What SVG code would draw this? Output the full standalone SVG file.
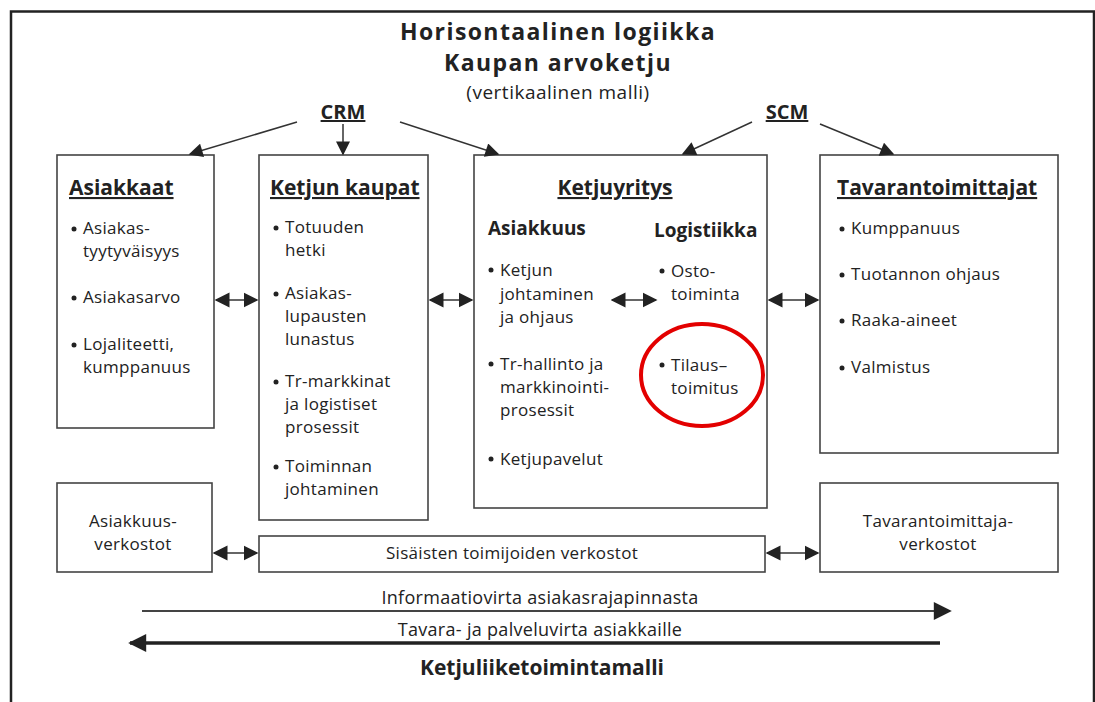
<svg xmlns="http://www.w3.org/2000/svg" width="1095" height="702" viewBox="0 0 1095 702">
<style>
text{font-family:"Open Sans","Noto Sans","Liberation Sans",sans-serif;fill:#222}
.t1{font-size:23px;font-weight:bold;letter-spacing:1.4px;text-anchor:middle}
.sub{font-size:19px;letter-spacing:0.5px;text-anchor:middle}
.hd{font-size:21px;font-weight:bold;text-decoration:underline}
.sh{font-size:19px;font-weight:bold}
.b{font-size:17px;letter-spacing:0.3px}
.c{font-size:17px;letter-spacing:0.3px;text-anchor:middle}
.box{fill:#fff;stroke:#444;stroke-width:1.6}
.ln{stroke:#333;stroke-width:1.5;fill:none}
.ah{fill:#222}
</style>
<defs>
<marker id="tri" viewBox="0 0 10 10" refX="9" refY="5" markerWidth="16" markerHeight="14" markerUnits="userSpaceOnUse" orient="auto"><path d="M0,0L10,5L0,10z" fill="#222"/></marker>
<marker id="tri2" viewBox="0 0 10 10" refX="9" refY="5" markerWidth="22" markerHeight="18" markerUnits="userSpaceOnUse" orient="auto"><path d="M0,0L10,5L0,10z" fill="#222"/></marker>
<marker id="dh" viewBox="0 0 10 10" refX="9" refY="5" markerWidth="15" markerHeight="18" markerUnits="userSpaceOnUse" orient="auto-start-reverse"><path d="M0,0L10,5L0,10z" fill="#222"/></marker>
</defs>
<rect x="0" y="0" width="1095" height="702" fill="#fff"/>
<path d="M11,702V11.5H1094V702" fill="none" stroke="#222" stroke-width="2.5"/>

<g id="title">
<text class="t1" x="558" y="40">Horisontaalinen logiikka</text>
<text class="t1" x="558" y="71">Kaupan arvoketju</text>
<text class="sub" x="558" y="99">(vertikaalinen malli)</text>
</g>
<g id="crm"><text x="343" y="119" style="font-size:20px;font-weight:bold;text-anchor:middle;text-decoration:underline">CRM</text></g>
<g id="scm"><text x="787" y="119" style="font-size:20px;font-weight:bold;text-anchor:middle;text-decoration:underline">SCM</text></g>

<g id="asiakkaat">
<rect class="box" x="57" y="155" width="157" height="273"/>
<text class="hd" x="69" y="195">Asiakkaat</text>
<circle cx="74" cy="229" r="2.5" class="ah"/><text class="b" x="83" y="234">Asiakas-</text><text class="b" x="83" y="257">tyytyväisyys</text>
<circle cx="74" cy="298" r="2.5" class="ah"/><text class="b" x="83" y="303">Asiakasarvo</text>
<circle cx="74" cy="345" r="2.5" class="ah"/><text class="b" x="83" y="350">Lojaliteetti,</text><text class="b" x="83" y="373">kumppanuus</text>
</g>

<g id="ketjun-kaupat">
<rect class="box" x="259" y="155" width="169" height="365"/>
<text class="hd" x="270" y="195">Ketjun kaupat</text>
<circle cx="276" cy="228" r="2.5" class="ah"/><text class="b" x="285" y="233">Totuuden</text><text class="b" x="285" y="256">hetki</text>
<circle cx="276" cy="294" r="2.5" class="ah"/><text class="b" x="285" y="299">Asiakas-</text><text class="b" x="285" y="322">lupausten</text><text class="b" x="285" y="345">lunastus</text>
<circle cx="276" cy="382" r="2.5" class="ah"/><text class="b" x="285" y="387">Tr-markkinat</text><text class="b" x="285" y="410">ja logistiset</text><text class="b" x="285" y="433">prosessit</text>
<circle cx="276" cy="467" r="2.5" class="ah"/><text class="b" x="285" y="472">Toiminnan</text><text class="b" x="285" y="495">johtaminen</text>
</g>

<g id="ketjuyritys">
<rect class="box" x="474" y="155" width="293" height="353"/>
<text class="hd" x="615" y="195" style="text-anchor:middle">Ketjuyritys</text>
<text class="sh" x="488" y="235">Asiakkuus</text>
<text class="sh" x="654" y="237">Logistiikka</text>
<circle cx="491" cy="270" r="2.5" class="ah"/><text class="b" x="500" y="276">Ketjun</text><text class="b" x="500" y="300">johtaminen</text><text class="b" x="500" y="323">ja ohjaus</text>
<circle cx="491" cy="364" r="2.5" class="ah"/><text class="b" x="500" y="370">Tr-hallinto ja</text><text class="b" x="500" y="393">markkinointi-</text><text class="b" x="500" y="416">prosessit</text>
<circle cx="491" cy="459" r="2.5" class="ah"/><text class="b" x="500" y="465">Ketjupavelut</text>
<circle cx="662" cy="271" r="2.5" class="ah"/><text class="b" x="671" y="277">Osto-</text><text class="b" x="671" y="300">toiminta</text>
<circle cx="662" cy="365" r="2.5" class="ah"/><text class="b" x="671" y="371">Tilaus–</text><text class="b" x="671" y="394">toimitus</text>
<ellipse cx="702" cy="375" rx="61" ry="51" fill="none" stroke="#e30000" stroke-width="4"/>
</g>

<g id="tavarantoimittajat">
<rect class="box" x="820" y="155" width="238" height="298"/>
<text class="hd" x="837" y="195">Tavarantoimittajat</text>
<circle cx="842" cy="229" r="2.5" class="ah"/><text class="b" x="851" y="234">Kumppanuus</text>
<circle cx="842" cy="275" r="2.5" class="ah"/><text class="b" x="851" y="280">Tuotannon ohjaus</text>
<circle cx="842" cy="321" r="2.5" class="ah"/><text class="b" x="851" y="326">Raaka-aineet</text>
<circle cx="842" cy="368" r="2.5" class="ah"/><text class="b" x="851" y="373">Valmistus</text>
</g>

<g id="asiakkuusverkostot">
<rect class="box" x="57" y="483" width="155" height="89"/>
<text class="c" x="133" y="527">Asiakkuus-</text><text class="c" x="133" y="550">verkostot</text>
</g>
<g id="sisaiset">
<rect class="box" x="259" y="536" width="506" height="36"/>
<text class="c" x="512" y="559">Sisäisten toimijoiden verkostot</text>
</g>
<g id="tavarantoimittajaverkostot">
<rect class="box" x="820" y="483" width="238" height="89"/>
<text class="c" x="938" y="527">Tavarantoimittaja-</text><text class="c" x="938" y="550">verkostot</text>
</g>

<g id="connectors">
<line class="ln" x1="297" y1="122" x2="190" y2="154" marker-end="url(#tri)"/>
<line class="ln" x1="343" y1="124" x2="343" y2="154" marker-end="url(#tri)"/>
<line class="ln" x1="400" y1="122" x2="498" y2="154" marker-end="url(#tri)"/>
<line class="ln" x1="752" y1="122" x2="683" y2="154" marker-end="url(#tri)"/>
<line class="ln" x1="820" y1="124" x2="893" y2="154" marker-end="url(#tri)"/>
<line class="ln" x1="216" y1="300" x2="257" y2="300" marker-start="url(#dh)" marker-end="url(#dh)"/>
<line class="ln" x1="430" y1="300" x2="472" y2="300" marker-start="url(#dh)" marker-end="url(#dh)"/>
<line class="ln" x1="612" y1="300" x2="656" y2="300" marker-start="url(#dh)" marker-end="url(#dh)"/>
<line class="ln" x1="769" y1="300" x2="818" y2="300" marker-start="url(#dh)" marker-end="url(#dh)"/>
<line class="ln" x1="214" y1="553" x2="257" y2="553" marker-start="url(#dh)" marker-end="url(#dh)"/>
<line class="ln" x1="767" y1="553" x2="818" y2="553" marker-start="url(#dh)" marker-end="url(#dh)"/>
<line x1="142" y1="611" x2="950" y2="611" stroke="#444" stroke-width="2" marker-end="url(#tri2)"/>
<line x1="940" y1="643" x2="130" y2="643" stroke="#222" stroke-width="3.5" marker-end="url(#tri2)"/>
</g>

<g id="flow-labels">
<text class="c" x="540" y="604" style="font-size:18px">Informaatiovirta asiakasrajapinnasta</text>
<text class="c" x="540" y="636" style="font-size:18px">Tavara- ja palveluvirta asiakkaille</text>
<text x="542" y="675" style="font-size:21px;font-weight:bold;text-anchor:middle">Ketjuliiketoimintamalli</text>
</g>
</svg>
